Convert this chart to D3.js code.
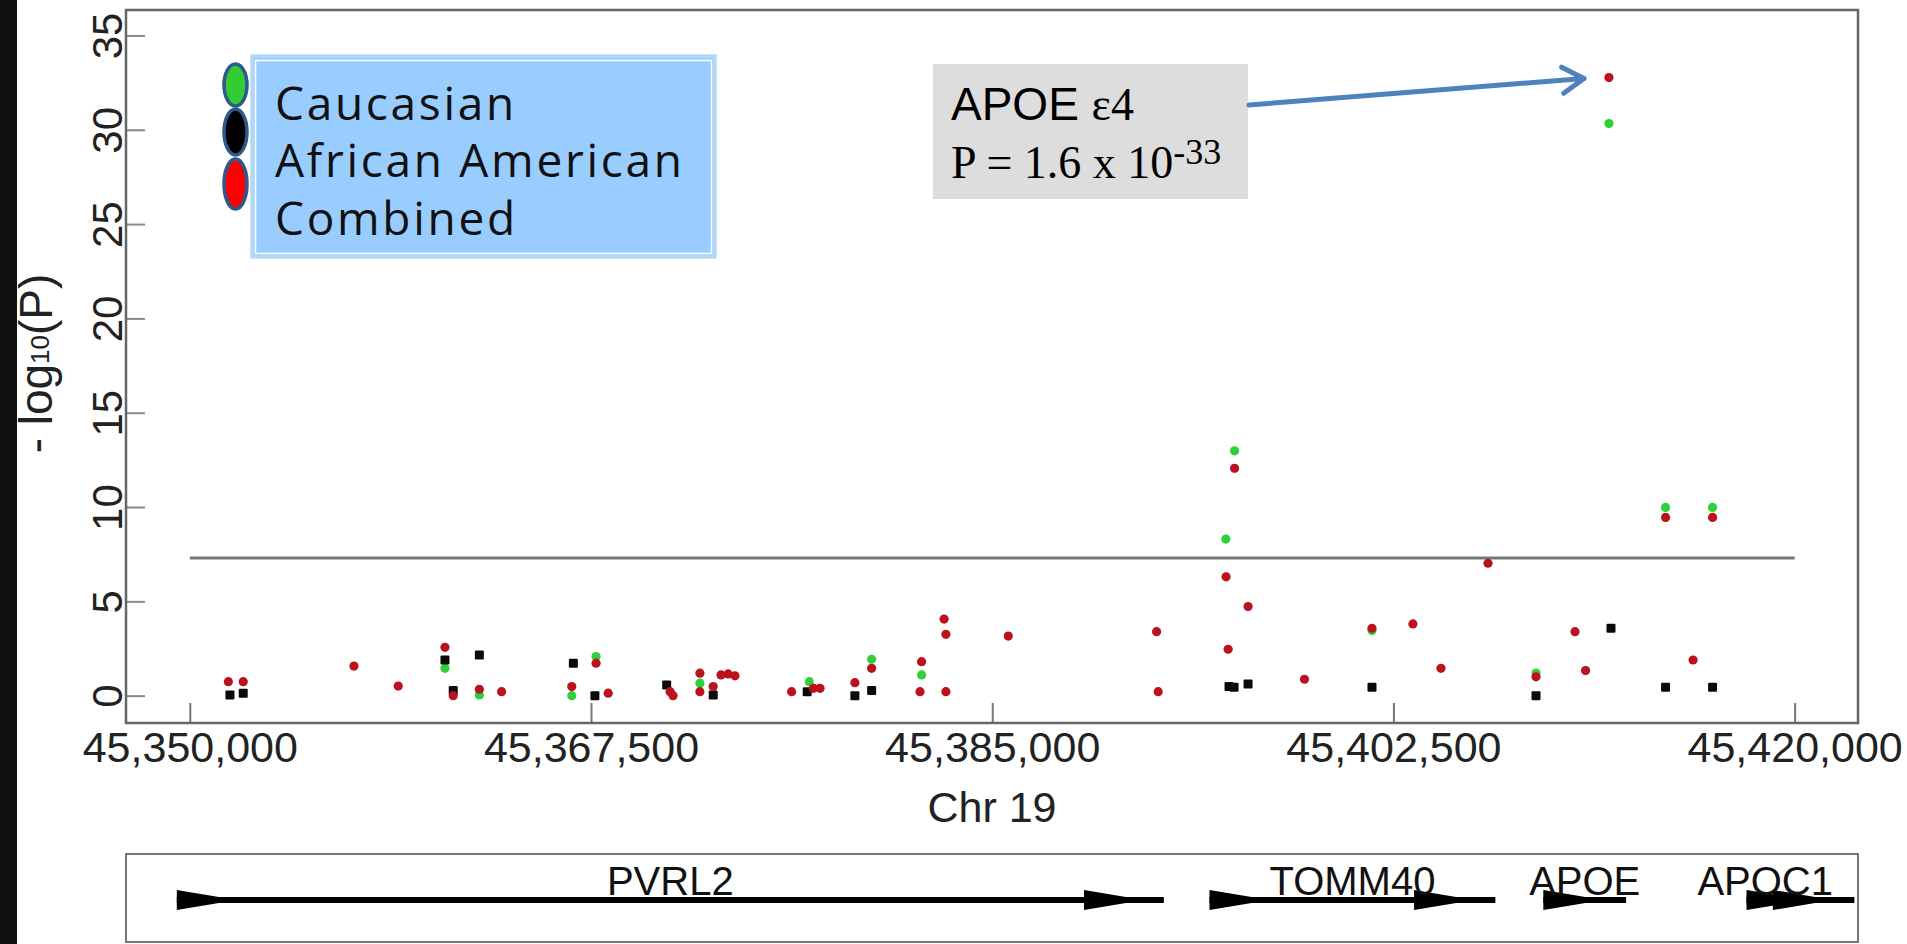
<!DOCTYPE html>
<html>
<head>
<meta charset="utf-8">
<script src="https://cdn.jsdelivr.net/npm/d3@7/dist/d3.min.js"></script>
<style>
  html, body { margin: 0; padding: 0; background: #fff; }
  svg { display: block; }
</style>
</head>
<body>
<svg id="chart" width="1907" height="944"></svg>
<script>
// ---------------- DATA ----------------
const xTicks = [45350000, 45367500, 45385000, 45402500, 45420000];
const yTicks = [0, 5, 10, 15, 20, 25, 30, 35];
const significanceLine = 7.3;
const sigFrom = 45350000, sigTo = 45420000;

const seriesNames = ["Caucasian", "African American", "Combined"];

const caucasianPos = [45361130, 45362630, 45366660, 45367720, 45372250, 45377020, 45379740, 45381920,
  45395190, 45395570, 45401565, 45408720, 45411900, 45414370, 45416420];
const caucasianLogP = [1.45, 0.04, 0.0, 2.07, 0.66, 0.74, 1.93, 1.1,
  8.3, 12.98, 3.45, 1.2, 30.33, 9.98, 9.98];

const africanPos = [45351750, 45352330, 45361130, 45361490, 45362630, 45366730, 45367670, 45370800,
  45372830, 45376930, 45379010, 45379740, 45395330, 45395550, 45396160, 45401565, 45408720,
  45411990, 45414370, 45416420];
const africanLogP = [0.04, 0.13, 1.89, 0.27, 2.16, 1.72, 0.0, 0.57,
  0.04, 0.21, 0.0, 0.27, 0.48, 0.45, 0.62, 0.45, 0.0,
  3.57, 0.45, 0.45];

const combinedPos = [45351680, 45352330, 45357160, 45359090, 45361130, 45361490, 45362630, 45363600,
  45366660, 45367720, 45368250, 45370950, 45371080, 45372250, 45372250, 45372830, 45373170,
  45373480, 45373780, 45376250, 45377200, 45377490, 45379010, 45379740, 45381850, 45381920,
  45382900, 45382980, 45382980, 45385700, 45392170, 45392240, 45395200, 45395290, 45395570,
  45396160, 45398620, 45401565, 45403350, 45404575, 45406625, 45408720, 45410420, 45410880,
  45411900, 45414370, 45415570, 45416420];
const combinedLogP = [0.74, 0.74, 1.57, 0.51, 2.56, 0.0, 0.34, 0.21,
  0.48, 1.72, 0.13, 0.21, 0.0, 1.19, 0.21, 0.48, 1.1,
  1.15, 1.05, 0.21, 0.39, 0.39, 0.69, 1.45, 0.21, 1.8,
  4.06, 3.25, 0.21, 3.16, 3.39, 0.21, 6.3, 2.46, 12.05,
  4.72, 0.87, 3.57, 3.8, 1.45, 7.02, 1.0, 3.39, 1.33,
  32.77, 9.45, 1.89, 9.45];

const topHitPos = 45411900, topHitLogP = 32.77;

const geneNames = ["PVRL2", "TOMM40", "APOE", "APOC1"];
const geneStart = [45349432, 45394477, 45409039, 45417900];
const geneEnd = [45392485, 45406946, 45412650, 45422606];
const geneArrowAt = [[45349432, 45389000], [45394477, 45403400], [45409039], [45417900, 45419050]];

// ---------------- LAYOUT ----------------
const svg = d3.select("#chart");
const F = "'Liberation Sans', Arial, Helvetica, sans-serif";
const plot = { left: 126, right: 1858, top: 10, bottom: 723 };

const x = d3.scaleLinear().domain([45347217, 45422764]).range([plot.left, plot.right]);
const y = d3.scaleLinear().domain([-1.45, 36.35]).range([plot.bottom, plot.top]);

// black strip at the left
svg.append("rect").attr("x", 0).attr("y", 0).attr("width", 17).attr("height", 944).attr("fill", "#111");

// x axis (ticks inward)
const xAxis = svg.append("g")
  .attr("transform", `translate(0,${plot.bottom})`)
  .call(d3.axisBottom(x).tickValues(xTicks).tickSize(-20).tickPadding(8).tickFormat(d3.format(",")));
xAxis.select(".domain").remove();
xAxis.selectAll("line").attr("stroke", "#777").attr("stroke-width", 2);
xAxis.selectAll("text").attr("font-family", F).attr("font-size", 43).attr("fill", "#222");

// y axis (ticks inward, rotated labels)
const yAxis = svg.append("g")
  .attr("transform", `translate(${plot.left},0)`)
  .call(d3.axisLeft(y).tickValues(yTicks).tickSize(-19).tickFormat(d3.format("d")));
yAxis.select(".domain").remove();
yAxis.selectAll("line").attr("stroke", "#888").attr("stroke-width", 2);
yAxis.selectAll("text")
  .attr("x", null).attr("dy", null)
  .attr("transform", "translate(-4,0) rotate(-90)")
  .attr("text-anchor", "middle")
  .attr("font-family", F).attr("font-size", 42).attr("fill", "#222");

// frame
svg.append("rect")
  .attr("x", plot.left).attr("y", plot.top)
  .attr("width", plot.right - plot.left).attr("height", plot.bottom - plot.top)
  .attr("fill", "none").attr("stroke", "#666").attr("stroke-width", 2.5);

// significance line
svg.append("line")
  .attr("x1", x(sigFrom)).attr("x2", x(sigTo))
  .attr("y1", y(significanceLine)).attr("y2", y(significanceLine))
  .attr("stroke", "#777").attr("stroke-width", 3);

// axis titles
svg.append("text")
  .attr("x", (plot.left + plot.right) / 2).attr("y", 822)
  .attr("text-anchor", "middle").attr("font-family", F).attr("font-size", 43).attr("fill", "#222")
  .text("Chr 19");

const yl = svg.append("text")
  .attr("transform", `translate(52,${(plot.top + plot.bottom) / 2 - 3}) rotate(-90)`)
  .attr("text-anchor", "middle").attr("font-family", F).attr("font-size", 46).attr("fill", "#222");
yl.append("tspan").text("- log");
yl.append("tspan").attr("font-size", 26).attr("dy", -3).text("10");
yl.append("tspan").attr("dy", 3).text("(P)");

// points
const toPts = (pos, vals) => pos.map((p, i) => ({ p, v: vals[i] }));
const r = 4.6;
svg.append("g").selectAll("circle").data(toPts(caucasianPos, caucasianLogP)).join("circle")
  .attr("cx", d => x(d.p)).attr("cy", d => y(d.v)).attr("r", r).attr("fill", "#2fd03a");
svg.append("g").selectAll("rect").data(toPts(africanPos, africanLogP)).join("rect")
  .attr("x", d => x(d.p) - 4.5).attr("y", d => y(d.v) - 4.5).attr("width", 9).attr("height", 9)
  .attr("rx", 1.2).attr("fill", "#0a0a0a");
svg.append("g").selectAll("circle").data(toPts(combinedPos, combinedLogP)).join("circle")
  .attr("cx", d => x(d.p)).attr("cy", d => y(d.v)).attr("r", r).attr("fill", "#bb131d");

// legend
const lg = svg.append("g");
lg.append("rect").attr("x", 252).attr("y", 56).attr("width", 463).attr("height", 201)
  .attr("fill", "#99CCFF").attr("stroke", "#b6d8f8").attr("stroke-width", 3.5);
lg.append("rect").attr("x", 255.5).attr("y", 60.5).attr("width", 456).attr("height", 193)
  .attr("fill", "none").attr("stroke", "#ffffff").attr("stroke-width", 1.5);
const ovalFill = ["#33cc33", "#000000", "#ff0000"];
const ovalCy = [85, 132, 184];
const ovalRy = [21, 23, 25];
lg.selectAll("ellipse").data(seriesNames).join("ellipse")
  .attr("cx", 235.5).attr("cy", (d, i) => ovalCy[i]).attr("rx", 11.5).attr("ry", (d, i) => ovalRy[i])
  .attr("fill", (d, i) => ovalFill[i]).attr("stroke", "#2c5a8c").attr("stroke-width", 3.5);
const legendBase = [120, 177, 235];
lg.selectAll("text").data(seriesNames).join("text")
  .attr("x", 275).attr("y", (d, i) => legendBase[i])
  .attr("font-family", "'Open Sans', 'Noto Sans', sans-serif").attr("font-size", 46)
  .attr("letter-spacing", 2.7).attr("fill", "#111")
  .text(d => d);

// annotation
const an = svg.append("g");
an.append("rect").attr("x", 933).attr("y", 64).attr("width", 315).attr("height", 135).attr("fill", "#dddddd");
const t1 = an.append("text").attr("x", 951).attr("y", 120).attr("fill", "#000");
t1.append("tspan").attr("font-family", F).attr("font-size", 46).text("APOE ");
t1.append("tspan").attr("font-family", "'Liberation Serif', 'Times New Roman', serif").attr("font-size", 46).text("ε4");
const t2 = an.append("text").attr("x", 951).attr("y", 178).attr("fill", "#000")
  .attr("font-family", "'Liberation Serif', 'Times New Roman', serif").attr("font-size", 46);
t2.append("tspan").text("P = 1.6 x 10");
t2.append("tspan").attr("font-size", 36).attr("dy", -14).text("-33");

// arrow
const tipX = x(topHitPos) - 25, tipY = y(topHitLogP) + 1;
const sx = 1249, sy = 105;
an.append("line").attr("x1", sx).attr("y1", sy).attr("x2", tipX).attr("y2", tipY)
  .attr("stroke", "#4f81bd").attr("stroke-width", 5).attr("stroke-linecap", "round");
const ang = Math.atan2(tipY - sy, tipX - sx);
const armL = 25, spread = 0.55;
const a1 = [tipX - armL * Math.cos(ang - spread), tipY - armL * Math.sin(ang - spread)];
const a2 = [tipX - armL * Math.cos(ang + spread), tipY - armL * Math.sin(ang + spread)];
an.append("path")
  .attr("d", `M${a1[0]},${a1[1]} L${tipX},${tipY} L${a2[0]},${a2[1]}`)
  .attr("fill", "none").attr("stroke", "#4f81bd").attr("stroke-width", 5)
  .attr("stroke-linecap", "round").attr("stroke-linejoin", "round");

// gene track
const gt = svg.append("g");
gt.append("rect").attr("x", plot.left).attr("y", 854).attr("width", plot.right - plot.left).attr("height", 88)
  .attr("fill", "#fff").attr("stroke", "#777").attr("stroke-width", 2);
const lineY = 900;
const genes = geneNames.map((n, i) => ({ n, s: geneStart[i], e: geneEnd[i], arr: geneArrowAt[i] }));
gt.selectAll("line.gene").data(genes).join("line").attr("class", "gene")
  .attr("x1", d => x(d.s)).attr("x2", d => x(d.e)).attr("y1", lineY).attr("y2", lineY)
  .attr("stroke", "#000").attr("stroke-width", 6);
gt.selectAll("path.head").data(genes.flatMap(d => d.arr)).join("path").attr("class", "head")
  .attr("d", p => { const b = x(p); return `M${b},${lineY - 10} L${b + 60},${lineY} L${b},${lineY + 10} Z`; })
  .attr("fill", "#000");
gt.selectAll("text").data(genes).join("text")
  .attr("font-family", F).attr("font-size", 40).attr("fill", "#111")
  .attr("text-anchor", "middle").attr("y", 895)
  .text(d => d.n)
  .attr("x", function (d) {
    const w = this.getComputedTextLength();
    const c = x((d.s + d.e) / 2);
    return Math.min(c, plot.right - 25 - w / 2);
  });
</script>
</body>
</html>
